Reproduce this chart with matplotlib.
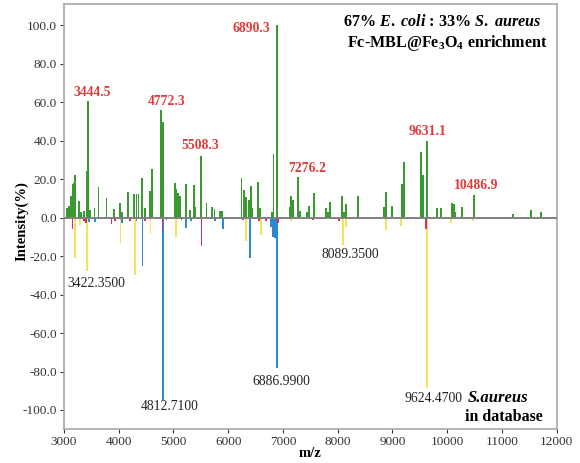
import numpy as np
import matplotlib.pyplot as plt

plt.rcParams['font.family'] = 'Liberation Serif'
plt.rcParams['mathtext.fontset'] = 'custom'
plt.rcParams['mathtext.rm'] = 'Liberation Serif:bold'
plt.rcParams['mathtext.it'] = 'Liberation Serif:italic:bold'
plt.rcParams['mathtext.bf'] = 'Liberation Serif:bold'

# sample spectrum (positive, green)
green_mz = [3060, 3091, 3128, 3159, 3183, 3206, 3274, 3310, 3365, 3414, 3444.5, 3475,
            3560, 3633, 3779, 3913, 4022, 4058, 4173, 4278, 4327, 4363, 4424, 4484,
            4570, 4606, 4772.3, 4812, 5026, 5057, 5086, 5117, 5227, 5300, 5373, 5404,
            5508.3, 5604, 5701, 5750, 5847, 5889, 6243, 6291, 6327, 6376, 6413, 6444,
            6541, 6577, 6796, 6827, 6890.3, 7125, 7149, 7185, 7276.2, 7305, 7440, 7477,
            7563, 7794, 7830, 7867, 8086, 8115, 8147, 8366, 8840, 8877, 8992, 9169,
            9211, 9521, 9557, 9631.1, 9820, 9893, 10094, 10123, 10145, 10276, 10486.9,
            11200, 11535, 11718]
green_int = [5, 6, 11.5, 17.6, 17.8, 22.4, 8.5, 3, 3.5, 24, 60.5, 4,
             5, 16, 10, 4.5, 7.5, 3, 13.3, 12.5, 12.5, 12.3, 20.6, 5,
             14, 25.4, 56, 49.6, 18, 15, 13, 11.5, 17.5, 4, 17, 5.5,
             32, 7.5, 5.5, 4.5, 3.5, 3.3, 20.5, 14.3, 10.7, 9, 16.5, 5,
             18.5, 5, 3, 33, 100, 5.5, 11, 9, 21, 3.5, 3, 6,
             13, 5, 3, 8, 11.5, 3, 7.3, 11.5, 5.5, 13.5, 6, 17.5,
             28.8, 34, 22, 39.7, 5, 5, 7.5, 7, 3, 5.5, 12,
             2, 4, 3]

# database spectrum (negative)
yellow_mz = [3201, 3292, 3422.35, 4035, 4296, 4582, 5044, 6334, 6595, 7155,
             8089.35, 8147, 8877, 9150, 9624.47, 10075, 10470]
yellow_int = [-21, -4, -28, -13.5, -30, -8.6, -10, -12.3, -8.8, -2,
              -14.3, -5, -6.5, -4.5, -88.6, -3, -2]
blue_mz = [3462, 3566, 4064, 4327, 4436, 4812.71, 5227, 5318, 5768, 5907,
           6407, 6790, 6820, 6850, 6886.99]
blue_int = [-2.5, -2.5, -3, -2, -25, -95, -5.5, -2, -2, -6,
            -21, -5, -10, -10.5, -78]
magenta_mz = [3159, 3365, 3402, 3870, 3931, 4205, 4478, 4801, 4874, 5148,
              5513, 6272, 6559, 6686, 6918, 7550, 8024, 9610]
magenta_int = [-6, -2, -3, -3.5, -2, -1.5, -2, -6.5, -1, -1,
               -14.7, -1, -2, -1.5, -3, -1, -1.5, -6]

red_labels = ['3444.5', '4772.3', '5508.3', '6890.3', '7276.2', '9631.1', '10486.9']
black_labels = ['3422.3500', '4812.7100', '6886.9900', '8089.3500', '9624.4700']

GREEN = '#3a9a32'
YELLOW = '#f6e25c'
BLUE = '#2b8ad0'
MAGENTA = '#d42a72'
RED = '#e23a3a'

fig = plt.figure(figsize=(5.8, 4.63), dpi=100)
ax = fig.add_axes([0.110, 0.073, 0.850, 0.918])

w = 34
ax.bar(green_mz, green_int, width=w, color=GREEN, linewidth=0)
ax.bar(yellow_mz, yellow_int, width=w, color=YELLOW, linewidth=0)
ax.bar(blue_mz, blue_int, width=w, color=BLUE, linewidth=0)
ax.bar(magenta_mz, magenta_int, width=w, color=MAGENTA, linewidth=0, zorder=3)
ax.axhline(0, color='#808080', lw=1.4, zorder=4)

ax.set_xlim(3000, 12000)
ax.set_ylim(-110, 111)
ax.set_xticks(np.arange(3000, 12001, 1000))
ax.set_yticks(np.arange(-100, 101, 20))
ax.set_yticklabels([f'{v:.1f}' for v in np.arange(-100, 101, 20)])
ax.tick_params(labelsize=9.5, colors='#333333', length=3, width=0.8, pad=2)
for s in ax.spines.values():
    s.set_color('#a8a8a8')
    s.set_linewidth(1.2)

ax.set_xlabel('m/z', fontsize=10.5, fontweight='bold')
ax.xaxis.set_label_coords(0.5, -0.042)
ax.set_ylabel('Intensity(%)', fontsize=10.5, fontweight='bold')
ax.yaxis.set_label_coords(-0.072, 0.49)

# peak labels
red_pos = [(3511, 65.3), (4880, 60.6), (5482, 37.3), (6431, 98.4), (7448, 25.4), (9643, 45), (10519, 16.6)]
for lab, (x, y) in zip(red_labels, red_pos):
    ax.text(x, y, lab, color=RED, fontsize=9.8, fontweight='bold', ha='center', va='center')

black_pos = [(3584, -34.2), (4934, -98), (6979, -85), (8238, -19.2), (9752, -93.8)]
for lab, (x, y) in zip(black_labels, black_pos):
    ax.text(x, y, lab, color='#222222', fontsize=9.8, ha='center', va='center')

ax.text(10373, -93.8, 'S.aureus', fontsize=12, fontweight='bold', style='italic', va='center', ha='left')
ax.text(11742, -103.8, 'in database', fontsize=11.5, fontweight='bold', va='center', ha='right')

ax.text(11720, 101.5, r'67% $\mathit{E.\ coli}$ : 33% $\mathit{S.\ aureus}$', fontsize=11.6,
        fontweight='bold', ha='right', va='center')
ax.text(11830, 91, r'Fc-MBL@Fe$_3$O$_4$ enrichment', fontsize=11.6,
        fontweight='bold', ha='right', va='center')

fig.savefig('out.png', dpi=100)
